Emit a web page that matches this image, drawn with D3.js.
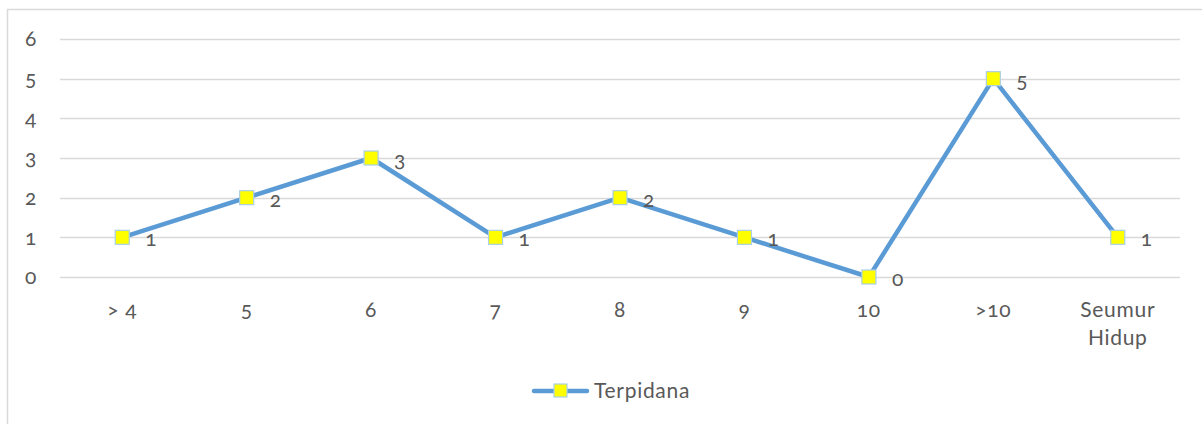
<!DOCTYPE html>
<html>
<head>
<meta charset="utf-8">
<script src="https://cdn.jsdelivr.net/npm/d3@7"></script>
<style>
  html, body { margin: 0; padding: 0; background: #fff; }
  svg { display: block; }
  text { font-family: Lato, "Open Sans", sans-serif; fill: #595959; font-variant-numeric: oldstyle-nums; letter-spacing: 0.7px; }
</style>
</head>
<body>
<svg id="chart" width="1202" height="424"></svg>
<script>
// Categories (sentence length, years) and counts
const categories = ["> 4", "5", "6", "7", "8", "9", "10", ">10", "Seumur Hidup"];
const terpidana = [1, 2, 3, 1, 2, 1, 0, 5, 1];
const yTicks = [0, 1, 2, 3, 4, 5, 6];
const seriesName = "Terpidana";

const svg = d3.select("#chart");
const FONT = "Lato, 'Open Sans', sans-serif";
const FS = "21px";

// Chart frame
svg.append("rect")
  .attr("x", 7.5).attr("y", 9.5)
  .attr("width", 1210).attr("height", 430)
  .attr("fill", "#fff").attr("stroke", "#d9d9d9").attr("stroke-width", 1.5);

const plot = { left: 60, right: 1180, top: 39, bottom: 277 };

const x = d3.scalePoint()
  .domain(categories)
  .range([plot.left, plot.right])
  .padding(0.5);

const y = d3.scaleLinear()
  .domain([0, 6])
  .range([plot.bottom, plot.top]);

// Gridlines
svg.append("g")
  .selectAll("line")
  .data(yTicks)
  .join("line")
  .attr("x1", plot.left).attr("x2", plot.right)
  .attr("y1", d => Math.round(y(d)) + 0.5)
  .attr("y2", d => Math.round(y(d)) + 0.5)
  .attr("stroke", "#d9d9d9").attr("stroke-width", 1.5);

// Y axis labels
const yAxis = d3.axisLeft(y).tickValues(yTicks).tickFormat(d3.format("d")).tickSize(0).tickPadding(0);
const gy = svg.append("g")
  .attr("transform", "translate(31,0)")
  .call(yAxis);
gy.select(".domain").remove();
gy.attr("font-family", null).attr("font-size", null);
gy.selectAll("text")
  .attr("text-anchor", "middle")
  .attr("dy", "0.32em")
  .style("font-size", FS)
  .style("font-family", FONT)
  .attr("fill", "#595959");

// X axis labels (long category wrapped onto two lines)
svg.append("g")
  .selectAll("text")
  .data(categories)
  .join("text")
  .attr("text-anchor", "middle")
  .attr("x", d => x(d))
  .attr("y", 317)
  .style("font-size", FS)
  .each(function(d) {
    const parts = d === "Seumur Hidup" ? ["Seumur", "Hidup"] : [d];
    const t = d3.select(this);
    parts.forEach((p, i) => {
      t.append("tspan").attr("x", x(d)).attr("dy", i === 0 ? 0 : 28).text(p);
    });
  });

// Line
const line = d3.line()
  .x((d, i) => x(categories[i]))
  .y(d => y(d));

svg.append("path")
  .datum(terpidana)
  .attr("d", line)
  .attr("fill", "none")
  .attr("stroke", "#5b9bd5")
  .attr("stroke-width", 4.5)
  .attr("stroke-linejoin", "round")
  .attr("stroke-linecap", "round");

// Square markers
const ms = 14;
svg.append("g")
  .selectAll("rect")
  .data(terpidana)
  .join("rect")
  .attr("x", (d, i) => x(categories[i]) - ms / 2)
  .attr("y", d => y(d) - ms / 2)
  .attr("width", ms).attr("height", ms)
  .attr("fill", "#ffff00")
  .attr("stroke", "#a9cfe6").attr("stroke-width", 1.2);

// Data labels
svg.append("g")
  .selectAll("text")
  .data(terpidana)
  .join("text")
  .attr("x", (d, i) => x(categories[i]) + 23)
  .attr("y", d => y(d) + 9)
  .attr("text-anchor", "start")
  .style("font-size", FS)
  .attr("fill", "#404040")
  .text(d => d);

// Legend
const lg = svg.append("g").attr("transform", "translate(0,391)");
lg.append("line")
  .attr("x1", 534).attr("x2", 587)
  .attr("stroke", "#5b9bd5").attr("stroke-width", 4.5)
  .attr("stroke-linecap", "round");
lg.append("rect")
  .attr("x", 554).attr("y", -7)
  .attr("width", 13).attr("height", 13)
  .attr("fill", "#ffff00")
  .attr("stroke", "#a9cfe6").attr("stroke-width", 1.2);
lg.append("text")
  .attr("x", 594).attr("y", 0)
  .attr("dy", "0.35em")
  .style("font-size", FS)
  .text(seriesName);
</script>
</body>
</html>
